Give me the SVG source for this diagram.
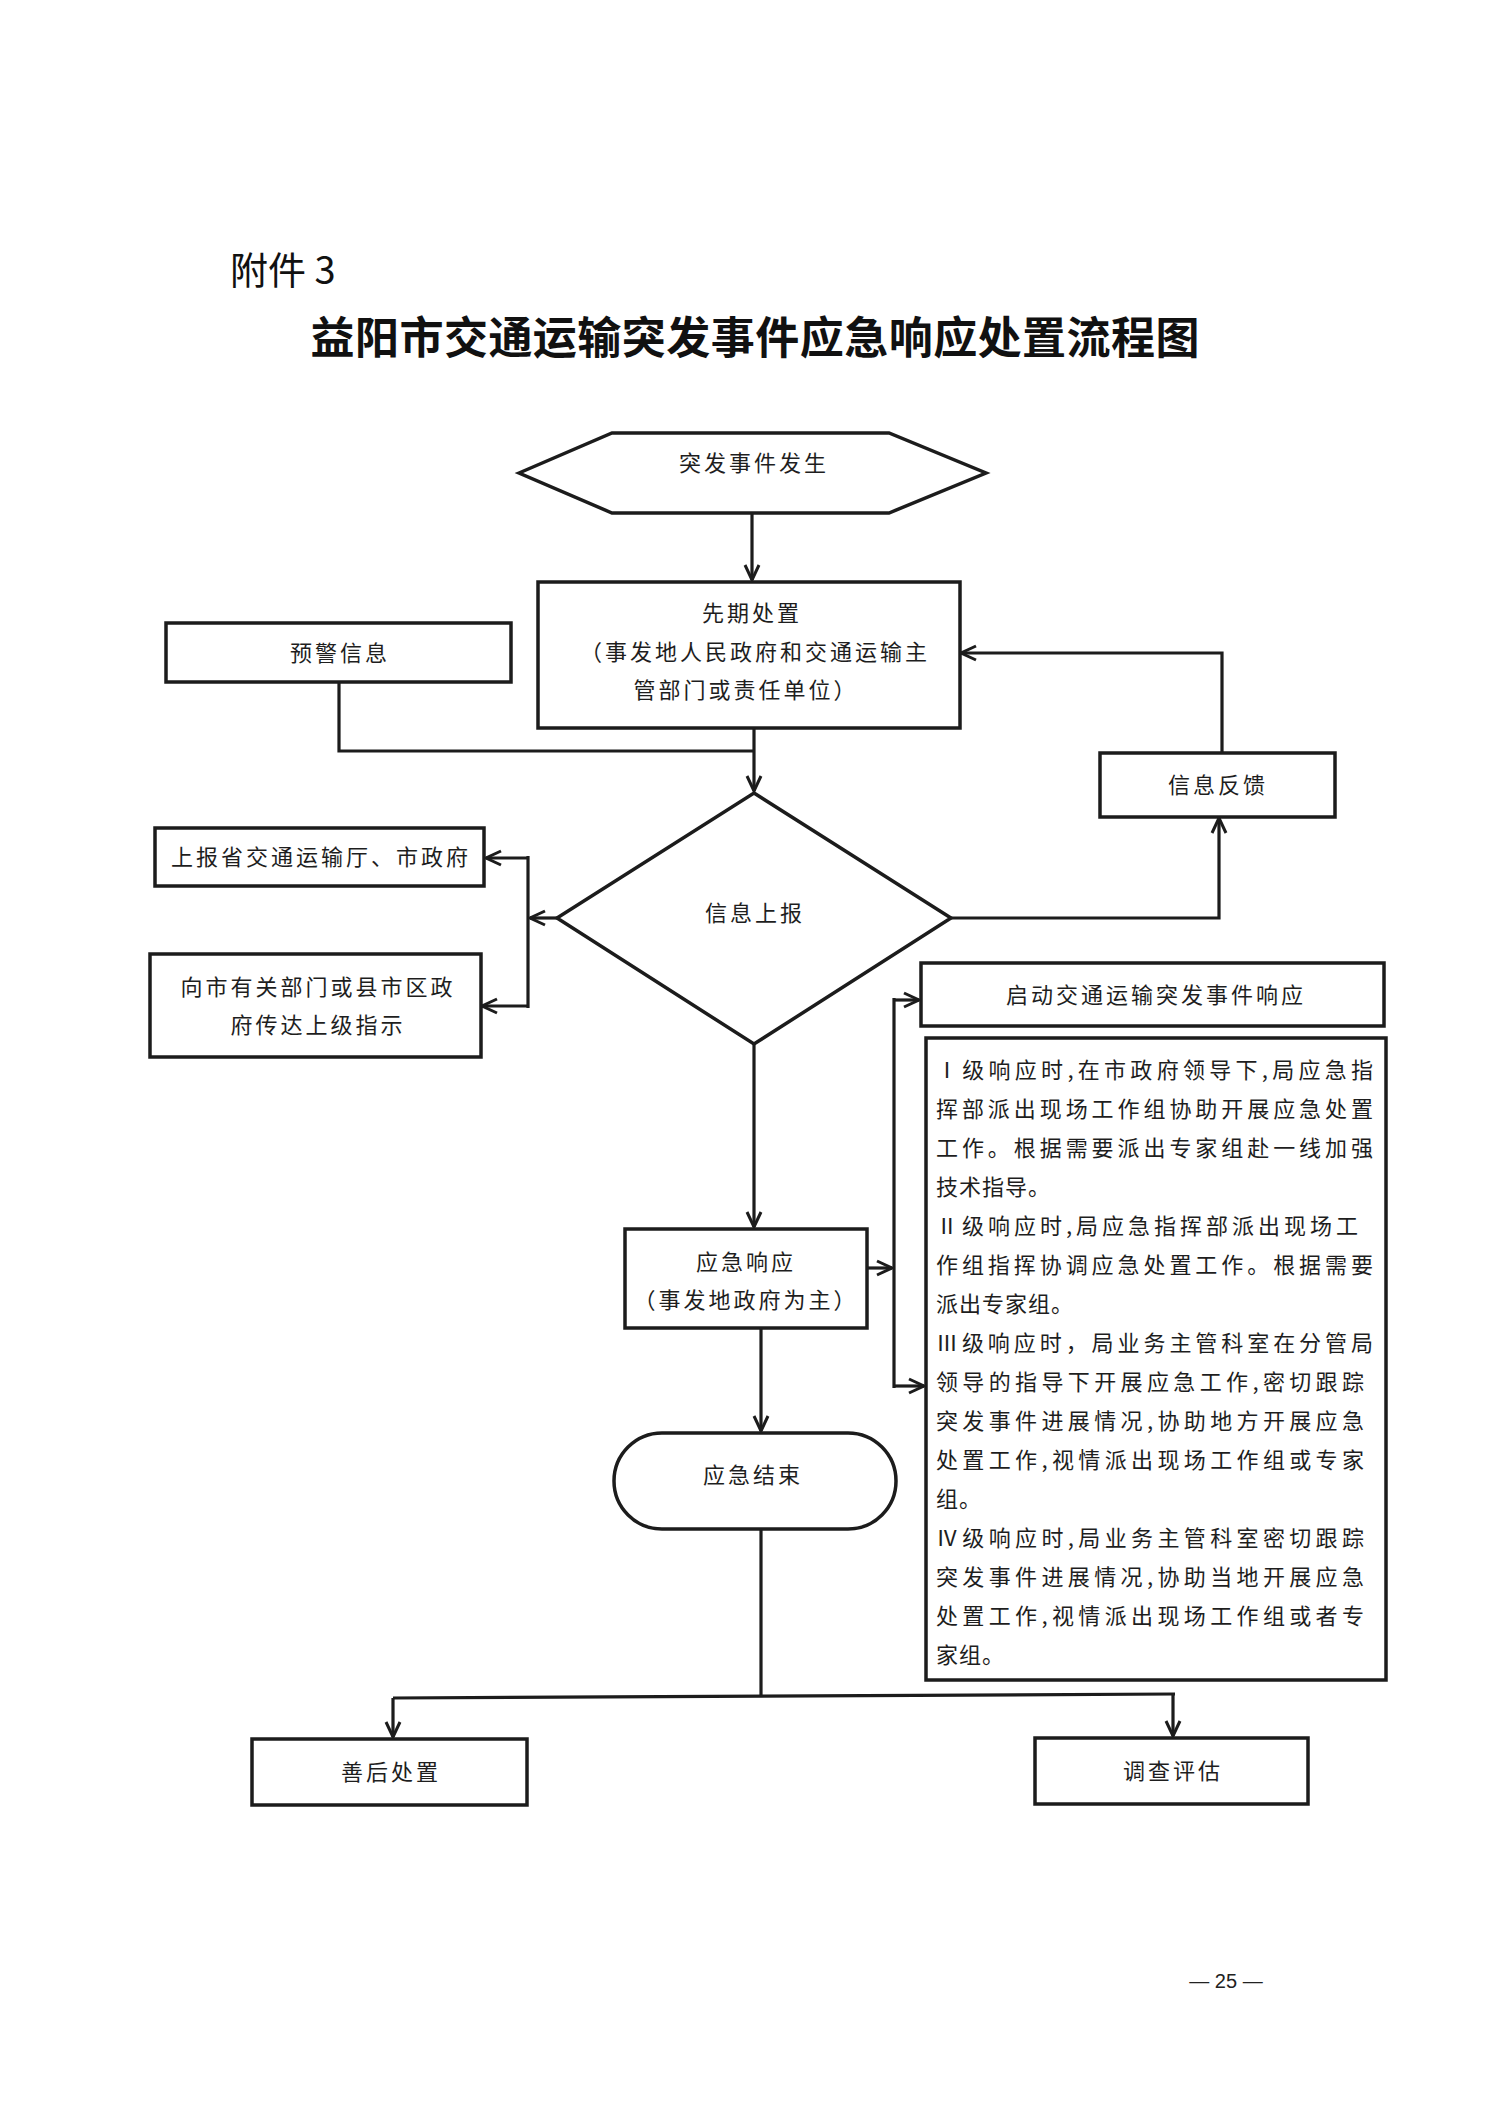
<svg xmlns="http://www.w3.org/2000/svg" width="1488" height="2105" viewBox="0 0 1488 2105">
<style>
.bg{fill:#ffffff}
.shape{fill:#ffffff;stroke:#1c1c1c;stroke-width:3.5}
.conn{fill:none;stroke:#1c1c1c;stroke-width:3.2}
.t{font-family:"Noto Sans CJK SC","Noto Sans CJK TC",sans-serif;font-size:22px;fill:#1e1e1e;letter-spacing:3px;text-anchor:middle}
.d{font-family:"Noto Sans CJK SC","Noto Sans CJK TC",sans-serif;font-size:22px;fill:#1e1e1e}
.h1{font-family:"Noto Sans CJK SC","Noto Sans CJK TC",sans-serif;font-size:38px;fill:#111}
.h2{font-family:"Noto Sans CJK SC","Noto Sans CJK TC",sans-serif;font-size:44px;font-weight:700;fill:#111;text-anchor:middle}
.pg{font-family:"Liberation Sans",Arial,sans-serif;font-size:20px;fill:#222;text-anchor:middle}
</style>
<defs>
<marker id="arr" markerWidth="20" markerHeight="18" refX="17" refY="9" orient="auto" markerUnits="userSpaceOnUse">
<path d="M2,2 L17,9 L2,16" fill="none" stroke="#1c1c1c" stroke-width="3"/>
</marker>
</defs>
<rect class="bg" x="0" y="0" width="1488" height="2105"/>

<g id="header">
<text class="h1" x="230" y="284">附件 3</text>
<text class="h2" x="755" y="354" textLength="889" lengthAdjust="spacing">益阳市交通运输突发事件应急响应处置流程图</text>
</g>

<g id="connectors">
<path class="conn" d="M752,513 V580" marker-end="url(#arr)"/>
<path class="conn" d="M754,728 V791" marker-end="url(#arr)"/>
<path class="conn" d="M339,682 V751 H754"/>
<path class="conn" d="M1222,753 V653 H961" marker-end="url(#arr)"/>
<path class="conn" d="M951,918 H1219 V818" marker-end="url(#arr)"/>
<path class="conn" d="M557,918 H530" marker-end="url(#arr)"/>
<path class="conn" d="M528,856 V1008"/>
<path class="conn" d="M528,858 H486" marker-end="url(#arr)"/>
<path class="conn" d="M528,1006 H482" marker-end="url(#arr)"/>
<path class="conn" d="M754,1044 V1227" marker-end="url(#arr)"/>
<path class="conn" d="M867,1268 H892" marker-end="url(#arr)"/>
<path class="conn" d="M894,998 V1388"/>
<path class="conn" d="M894,1000 H919" marker-end="url(#arr)"/>
<path class="conn" d="M894,1386 H924" marker-end="url(#arr)"/>
<path class="conn" d="M761,1328 V1431" marker-end="url(#arr)"/>
<path class="conn" d="M761,1529 V1696"/>
<path class="conn" d="M1175,1694 L393,1698"/>
<path class="conn" d="M393,1698 V1737" marker-end="url(#arr)"/>
<path class="conn" d="M1173,1694 V1736" marker-end="url(#arr)"/>
</g>

<g id="node-start">
<polygon class="shape" points="519,473 612,433 889,433 986,473 889,513 612,513"/>
<text class="t" x="754" y="471">突发事件发生</text>
</g>

<g id="node-initial">
<rect class="shape" x="538" y="582" width="422" height="146"/>
<text class="t" x="752" y="621">先期处置</text>
<text class="t" x="755" y="660">（事发地人民政府和交通运输主</text>
<text class="t" x="746" y="698">管部门或责任单位）</text>
</g>

<g id="node-warning">
<rect class="shape" x="166" y="623" width="345" height="59"/>
<text class="t" x="340" y="661">预警信息</text>
</g>

<g id="node-feedback">
<rect class="shape" x="1100" y="753" width="235" height="64"/>
<text class="t" x="1218" y="793">信息反馈</text>
</g>

<g id="node-report">
<polygon class="shape" points="754,793 951,918 754,1044 557,918"/>
<text class="t" x="755" y="921">信息上报</text>
</g>

<g id="node-province">
<rect class="shape" x="155" y="828" width="329" height="58"/>
<text class="t" x="321" y="865">上报省交通运输厅、市政府</text>
</g>

<g id="node-city">
<rect class="shape" x="150" y="954" width="331" height="103"/>
<text class="t" x="318" y="995">向市有关部门或县市区政</text>
<text class="t" x="318" y="1033">府传达上级指示</text>
</g>

<g id="node-launch">
<rect class="shape" x="921" y="963" width="463" height="63"/>
<text class="t" x="1156" y="1003">启动交通运输突发事件响应</text>
</g>

<g id="node-levels">
<rect class="shape" x="926" y="1038" width="460" height="642"/>
<text class="d" x="936" y="1078" textLength="437" lengthAdjust="spacing">Ⅰ级响应时,在市政府领导下,局应急指</text>
<text class="d" x="936" y="1117" textLength="437" lengthAdjust="spacing">挥部派出现场工作组协助开展应急处置</text>
<text class="d" x="936" y="1156" textLength="437" lengthAdjust="spacing">工作。根据需要派出专家组赴一线加强</text>
<text class="d" x="936" y="1195" letter-spacing="1">技术指导。</text>
<text class="d" x="936" y="1234" textLength="422" lengthAdjust="spacing">Ⅱ级响应时,局应急指挥部派出现场工</text>
<text class="d" x="936" y="1273" textLength="437" lengthAdjust="spacing">作组指挥协调应急处置工作。根据需要</text>
<text class="d" x="936" y="1312" letter-spacing="1">派出专家组。</text>
<text class="d" x="936" y="1351" textLength="437" lengthAdjust="spacing">Ⅲ级响应时，局业务主管科室在分管局</text>
<text class="d" x="936" y="1390" textLength="428" lengthAdjust="spacing">领导的指导下开展应急工作,密切跟踪</text>
<text class="d" x="936" y="1429" textLength="428" lengthAdjust="spacing">突发事件进展情况,协助地方开展应急</text>
<text class="d" x="936" y="1468" textLength="428" lengthAdjust="spacing">处置工作,视情派出现场工作组或专家</text>
<text class="d" x="936" y="1507" letter-spacing="1">组。</text>
<text class="d" x="936" y="1546" textLength="428" lengthAdjust="spacing">Ⅳ级响应时,局业务主管科室密切跟踪</text>
<text class="d" x="936" y="1585" textLength="428" lengthAdjust="spacing">突发事件进展情况,协助当地开展应急</text>
<text class="d" x="936" y="1624" textLength="428" lengthAdjust="spacing">处置工作,视情派出现场工作组或者专</text>
<text class="d" x="936" y="1663" letter-spacing="1">家组。</text>
</g>

<g id="node-response">
<rect class="shape" x="625" y="1229" width="242" height="99"/>
<text class="t" x="746" y="1270">应急响应</text>
<text class="t" x="746" y="1308">（事发地政府为主）</text>
</g>

<g id="node-end">
<rect class="shape" x="614" y="1433" width="282" height="96" rx="48" ry="48"/>
<text class="t" x="753" y="1483">应急结束</text>
</g>

<g id="node-aftermath">
<rect class="shape" x="252" y="1739" width="275" height="66"/>
<text class="t" x="391" y="1780">善后处置</text>
</g>

<g id="node-investigate">
<rect class="shape" x="1035" y="1738" width="273" height="66"/>
<text class="t" x="1173" y="1779">调查评估</text>
</g>

<g id="footer">
<text class="pg" x="1226" y="1988">— 25 —</text>
</g>
</svg>
